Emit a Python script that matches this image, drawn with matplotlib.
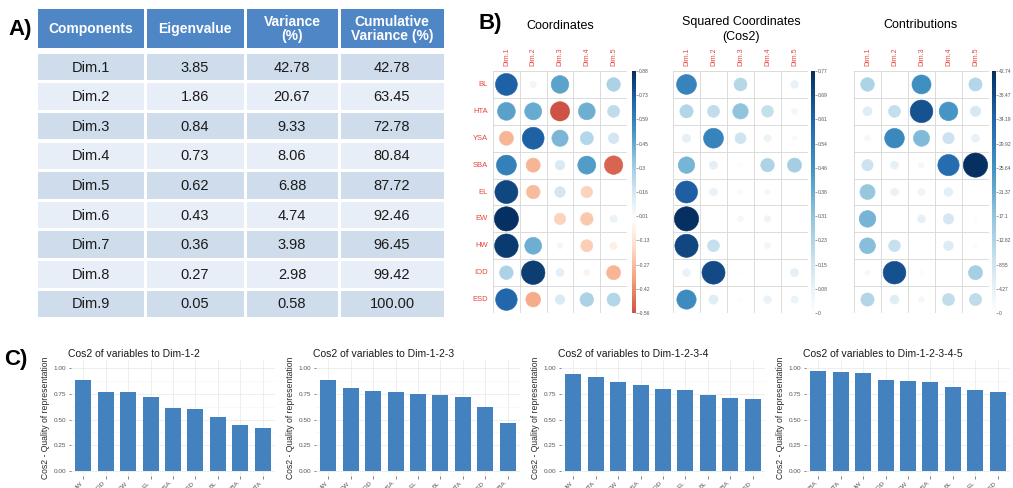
import numpy as np
import matplotlib
matplotlib.use("Agg")
import matplotlib.pyplot as plt
from matplotlib.patches import Rectangle, Circle
from matplotlib.colors import Normalize, LinearSegmentedColormap

plt.rcParams['font.family'] = ['Liberation Sans', 'DejaVu Sans']

W, H = 1013, 488

# ---- PCA summary table ----
components = [f"Dim.{i}" for i in range(1, 10)]
eigenvalues = [3.85, 1.86, 0.84, 0.73, 0.62, 0.43, 0.36, 0.27, 0.05]
variance_pct = [42.78, 20.67, 9.33, 8.06, 6.88, 4.74, 3.98, 2.98, 0.58]
cumulative_pct = [42.78, 63.45, 72.78, 80.84, 87.72, 92.46, 96.45, 99.42, 100.00]
table_headers = ["Components", "Eigenvalue", "Variance\n(%)", "Cumulative\nVariance (%)"]

# ---- variable coordinates on the first five dimensions ----
variables = ["BL", "HTA", "YSA", "SBA", "EL", "EW", "HW", "IOD", "ESD"]
dims = ["Dim.1", "Dim.2", "Dim.3", "Dim.4", "Dim.5"]
coord = np.array([
    [0.72, 0.06, 0.47, 0.00, 0.28],
    [0.48, 0.44, -0.56, 0.43, 0.22],
    [-0.30, 0.72, 0.40, 0.26, 0.17],
    [0.60, -0.30, 0.14, 0.49, -0.515],
    [0.80, -0.28, 0.17, -0.20, 0.00],
    [0.88, 0.00, -0.20, -0.24, 0.08],
    [0.84, 0.43, -0.05, -0.22, -0.08],
    [0.28, 0.835, 0.10, -0.06, -0.30],
    [0.70, -0.33, 0.14, 0.28, 0.26],
])
cos2 = coord ** 2
contrib = cos2 / np.array(eigenvalues[:5]) * 100

coord_ticklabels = ["-0.56", "-0.42", "-0.27", "-0.13", "0.01", "0.16", "0.3", "0.45", "0.59", "0.73", "0.88"]
cos2_ticklabels = ["0", "0.08", "0.15", "0.23", "0.31", "0.38", "0.46", "0.54", "0.61", "0.69", "0.77"]
contrib_ticklabels = ["0", "4.27", "8.55", "12.82", "17.1", "21.37", "25.64", "29.92", "34.19", "38.47", "42.74"]

# ---- cumulative quality of representation ----
q12_vars = ["HW", "IOD", "EW", "EL", "YSA", "ESD", "BL", "SBA", "HTA"]
q12_vals = [0.89, 0.77, 0.77, 0.72, 0.61, 0.60, 0.52, 0.45, 0.42]
q123_vars = ["HW", "EW", "IOD", "YSA", "EL", "BL", "HTA", "ESD", "SBA"]
q123_vals = [0.89, 0.81, 0.78, 0.77, 0.75, 0.74, 0.72, 0.62, 0.47]
q1234_vars = ["HW", "HTA", "EW", "YSA", "IOD", "EL", "BL", "SBA", "ESD"]
q1234_vals = [0.94, 0.91, 0.87, 0.84, 0.80, 0.79, 0.74, 0.71, 0.70]
q12345_vars = ["SBA", "HTA", "HW", "IOD", "EW", "YSA", "BL", "EL", "ESD"]
q12345_vals = [0.97, 0.96, 0.95, 0.89, 0.88, 0.87, 0.82, 0.79, 0.77]
q_titles = ["Cos2 of variables to Dim-1-2", "Cos2 of variables to Dim-1-2-3",
            "Cos2 of variables to Dim-1-2-3-4", "Cos2 of variables to Dim-1-2-3-4-5"]

fig = plt.figure(figsize=(W / 100, H / 100), dpi=100)


def px_axes(x0, y0, x1, y1, **kw):
    return fig.add_axes([x0 / W, 1 - y1 / H, (x1 - x0) / W, (y1 - y0) / H], **kw)


canvas = px_axes(0, 0, W, H)
canvas.set_xlim(0, W)
canvas.set_ylim(H, 0)
canvas.axis('off')

# ---------------- A) table ----------------
col_edges = [36, 145, 245, 339, 445]
header_col = '#4F86C6'
row_dark, row_light = '#CFDCEC', '#E8EEF7'
gap = 1.5
for c in range(4):
    x0, x1 = col_edges[c] + gap, col_edges[c + 1] - gap
    canvas.add_patch(Rectangle((x0, 9), x1 - x0, 39, facecolor=header_col, edgecolor='none'))
    canvas.text((x0 + x1) / 2, 29, table_headers[c], ha='center', va='center', color='white',
                fontsize=10, fontweight='bold', linespacing=0.95)
row_h = 29.6
for r in range(9):
    yc = 67 + r * row_h
    cells = [components[r], f"{eigenvalues[r]:.2f}", f"{variance_pct[r]:.2f}", f"{cumulative_pct[r]:.2f}"]
    fc = row_dark if r % 2 == 0 else row_light
    for c in range(4):
        x0, x1 = col_edges[c] + gap, col_edges[c + 1] - gap
        canvas.add_patch(Rectangle((x0, yc - row_h / 2 + 1.5), x1 - x0, row_h - 3,
                                   facecolor=fc, edgecolor='none'))
        canvas.text((x0 + x1) / 2, yc + 0.5, cells[c], ha='center', va='center',
                    fontsize=10.5, color='#1a1a1a')

for lab, (x, y) in {"A)": (20, 30), "B)": (490, 23), "C)": (16, 360)}.items():
    canvas.text(x, y, lab, ha='center', va='center', fontsize=16, fontweight='bold')

# ---------------- B) corrplots ----------------
div_cmap = LinearSegmentedColormap.from_list(
    'rdbu', ["#67001F", "#B2182B", "#D6604D", "#F4A582", "#FDDBC7", "#FFFFFF",
             "#D1E5F0", "#92C5DE", "#4393C3", "#2166AC", "#053061"])
seq_cmap = LinearSegmentedColormap.from_list(
    'blues', ["#FFFFFF", "#D1E5F0", "#92C5DE", "#4393C3", "#2166AC", "#053061"])
label_red = '#E8453C'
grid_grey = '#D6D6D6'


def corr_panel(vals, x0, x1, cb_x, cmap, norm, cb_lo, cb_hi, cb_labels, show_rows):
    y0, y1 = 71, 313
    ax = px_axes(x0, y0, x1, y1)
    ax.set_xlim(0.5, 5.5)
    ax.set_ylim(9.5, 0.5)
    ax.axis('off')
    for k in np.arange(0.5, 6.0, 1.0):
        ax.plot([k, k], [0.5, 9.5], color=grid_grey, lw=0.6, zorder=1)
    for k in np.arange(0.5, 10.0, 1.0):
        ax.plot([0.5, 5.5], [k, k], color=grid_grey, lw=0.6, zorder=1)
    vmax = np.abs(vals).max()
    for i in range(vals.shape[0]):
        for j in range(vals.shape[1]):
            v = vals[i, j]
            r = 0.45 * np.sqrt(abs(v) / vmax)
            col = cmap(norm(v))
            ax.add_patch(Circle((j + 1, i + 1), r, facecolor=col, edgecolor=col, lw=0.4, zorder=2))
    cw = (x1 - x0) / 5
    for j, d in enumerate(dims):
        canvas.text(x0 + cw * (j + 0.5), y0 - 5, d, rotation=90, ha='center', va='bottom',
                    fontsize=5, color=label_red)
    if show_rows:
        rh = (y1 - y0) / 9
        for i, v in enumerate(variables):
            canvas.text(x0 - 5, y0 + rh * (i + 0.5), v, ha='right', va='center',
                        fontsize=5.5, color=label_red)
    cax = px_axes(cb_x, y0, cb_x + 4, y1)
    grad = np.linspace(cb_lo, cb_hi, 256).reshape(-1, 1)
    cax.imshow(grad, aspect='auto', origin='lower', extent=[0, 1, cb_lo, cb_hi],
               cmap=cmap, norm=norm)
    cax.set_xticks([])
    cax.set_ylim(cb_lo, cb_hi)
    cax.yaxis.tick_right()
    cax.set_yticks(np.linspace(cb_lo, cb_hi, 11))
    cax.set_yticklabels(cb_labels)
    cax.tick_params(axis='y', length=1.2, width=0.4, pad=0.8, labelsize=3.6,
                    colors='#555555')
    for s in cax.spines.values():
        s.set_visible(False)


corr_panel(coord, 493, 627, 632, div_cmap, Normalize(-0.88, 0.88), -0.56, 0.88,
           coord_ticklabels, True)
corr_panel(cos2, 673, 808, 811, seq_cmap, Normalize(0, cos2.max()), 0, cos2.max(),
           cos2_ticklabels, False)
corr_panel(contrib, 854, 989, 992, seq_cmap, Normalize(0, contrib.max()), 0, contrib.max(),
           contrib_ticklabels, False)

canvas.text(560, 26, "Coordinates", ha='center', va='center', fontsize=9)
canvas.text(741, 22, "Squared Coordinates", ha='center', va='center', fontsize=9)
canvas.text(741, 37, "(Cos2)", ha='center', va='center', fontsize=9)
canvas.text(921, 25, "Contributions", ha='center', va='center', fontsize=9)

# ---------------- C) quality bar charts ----------------
bar_sets = [(q12_vars, q12_vals), (q123_vars, q123_vals),
            (q1234_vars, q1234_vals), (q12345_vars, q12345_vals)]
bar_col = '#4481BF'
for k, (names, vals) in enumerate(bar_sets):
    left = 71 + 245 * k
    ax = px_axes(left, 360, left + 204, 476)
    x = np.arange(len(names))
    ax.bar(x, vals, width=0.72, color=bar_col, zorder=2)
    ax.set_xlim(-0.55, len(names) - 0.45)
    ax.set_ylim(-0.05, 1.08)
    ax.set_yticks([0, 0.25, 0.5, 0.75, 1.0])
    ax.set_yticklabels(["0.00", "0.25", "0.50", "0.75", "1.00"])
    ax.set_yticks([0.125, 0.375, 0.625, 0.875], minor=True)
    ax.set_xticks(x)
    ax.set_xticklabels(names, rotation=45, ha='right', va='top')
    ax.grid(True, which='major', color='#EBEBEB', lw=0.6, zorder=0)
    ax.grid(True, which='minor', axis='y', color='#F4F4F4', lw=0.4, zorder=0)
    ax.tick_params(axis='both', which='major', length=1.8, width=0.5, colors='#555555',
                   labelsize=4.6, pad=1.5)
    ax.tick_params(axis='y', which='minor', length=0)
    for s in ax.spines.values():
        s.set_visible(False)
    ax.set_ylabel("Cos2 - Quality of representation", fontsize=6.2, color='#2b2b2b',
                  labelpad=3)
    canvas.text(left - 3, 354, q_titles[k], ha='left', va='center', fontsize=7.5,
                color='#1a1a1a')

fig.savefig("out.png", dpi=100)
